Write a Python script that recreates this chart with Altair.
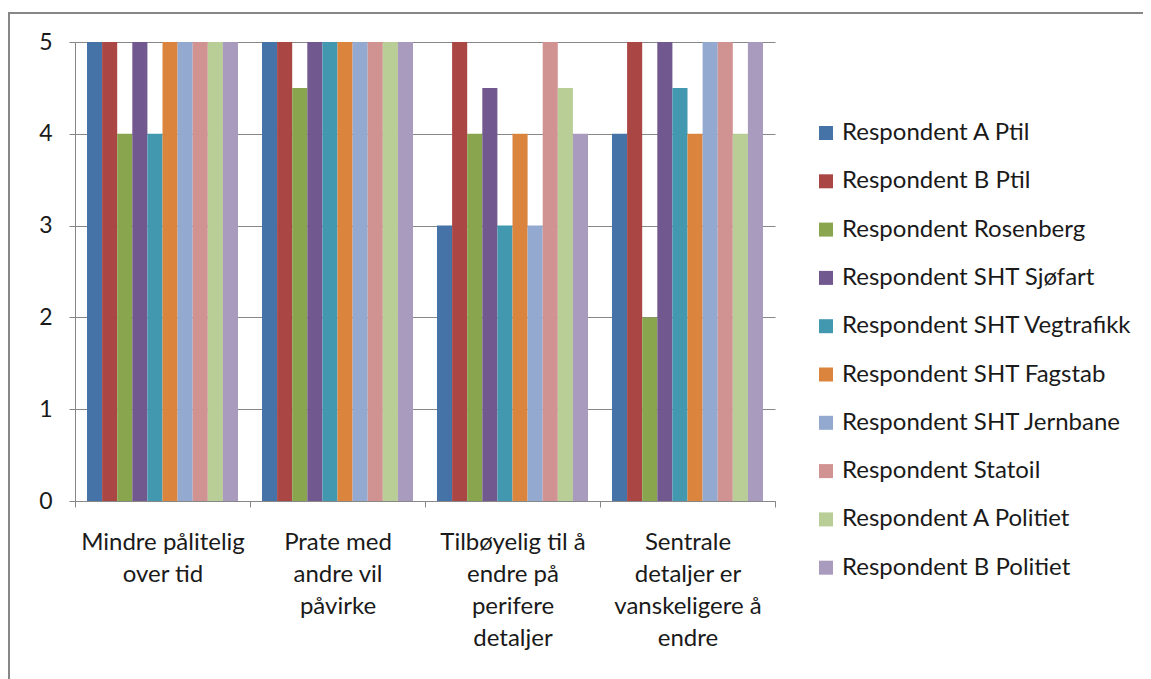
import altair as alt
import pandas as pd

categories = [
    "Mindre pålitelig over tid",
    "Prate med andre vil påvirke",
    "Tilbøyelig til å endre på perifere detaljer",
    "Sentrale detaljer er vanskeligere å endre",
]
category_lines = [
    ["Mindre pålitelig", "over tid"],
    ["Prate med", "andre vil", "påvirke"],
    ["Tilbøyelig til å", "endre på", "perifere", "detaljer"],
    ["Sentrale", "detaljer er", "vanskeligere å", "endre"],
]

series = [
    "Respondent A Ptil",
    "Respondent B Ptil",
    "Respondent Rosenberg",
    "Respondent SHT Sjøfart",
    "Respondent SHT Vegtrafikk",
    "Respondent SHT Fagstab",
    "Respondent SHT Jernbane",
    "Respondent Statoil",
    "Respondent A Politiet",
    "Respondent B Politiet",
]
colors = [
    "#4572A7", "#AA4643", "#89A54E", "#71588F", "#4198AF",
    "#DB843D", "#93A9CF", "#D19392", "#B9CD96", "#A99BBD",
]

a_ptil = [5, 5, 3, 4]
b_ptil = [5, 5, 5, 5]
rosenberg = [4, 4.5, 4, 2]
sht_sjofart = [5, 5, 4.5, 5]
sht_vegtrafikk = [4, 5, 3, 4.5]
sht_fagstab = [5, 5, 4, 4]
sht_jernbane = [5, 5, 3, 5]
statoil = [5, 5, 5, 5]
a_politiet = [5, 5, 4.5, 4]
b_politiet = [5, 5, 4, 5]

series_values = [a_ptil, b_ptil, rosenberg, sht_sjofart, sht_vegtrafikk,
                 sht_fagstab, sht_jernbane, statoil, a_politiet, b_politiet]

rows = []
for s, vals in zip(series, series_values):
    for c, v in zip(categories, vals):
        rows.append({"Kategori": c, "Respondent": s, "Verdi": v})
df = pd.DataFrame(rows)

# label expression producing multi-line labels
expr = "''"
for c, lines in reversed(list(zip(categories, category_lines))):
    arr = "[" + ",".join("'" + l + "'" for l in lines) + "]"
    expr = f"datum.value == '{c}' ? {arr} : ({expr})"

FONT = "Lato"
GRAY = "#878787"
TXT = "#1a1a1a"

W, H = 700, 459

bars = alt.Chart(df).mark_bar().encode(
    x=alt.X(
        "Kategori:N",
        sort=categories,
        scale=alt.Scale(paddingInner=0, paddingOuter=0),
        axis=alt.Axis(
            title=None, tickBand="extent", labelAngle=0, labelExpr=expr,
            labelFontSize=24, labelLineHeight=32, labelPadding=23,
            labelColor=TXT, labelFont=FONT,
            domainColor=GRAY, tickColor=GRAY, tickSize=6, grid=False,
        ),
    ),
    xOffset=alt.XOffset(
        "Respondent:N", sort=series,
        scale=alt.Scale(paddingInner=0, paddingOuter=0.795),
    ),
    y=alt.Y(
        "Verdi:Q",
        scale=alt.Scale(domain=[0, 5]),
        axis=alt.Axis(
            values=[0, 1, 2, 3, 4, 5], title=None, format="d",
            labelFontSize=23, labelColor=TXT, labelFont=FONT,
            labelPadding=17, tickSize=6, tickColor=GRAY, domainColor=GRAY,
            gridColor=GRAY, gridWidth=1,
        ),
    ),
    color=alt.Color(
        "Respondent:N", sort=series,
        scale=alt.Scale(domain=series, range=colors),
        legend=alt.Legend(
            title=None, orient="none", legendX=739, legendY=79,
            symbolType="square", symbolSize=196, symbolStrokeWidth=0,
            labelFontSize=24, labelFont=FONT, labelColor=TXT,
            rowPadding=24.3, labelOffset=4, labelLimit=400,
        ),
    ),
)

frame = alt.Chart(pd.DataFrame({"f": [0]})).mark_rect(
    filled=False, stroke=GRAY, strokeWidth=2
).encode(
    x=alt.value(-66), x2=alt.value(1200), y=alt.value(-29), y2=alt.value(800)
)

chart = alt.layer(frame, bars).properties(
    width=W, height=H,
    autosize=alt.AutoSizeParams(type="none"),
    padding={"left": 67, "top": 34, "right": 368, "bottom": 178},
).configure_view(stroke="transparent")

chart.save("out.html", embed_options={"renderer": "svg", "actions": False})
